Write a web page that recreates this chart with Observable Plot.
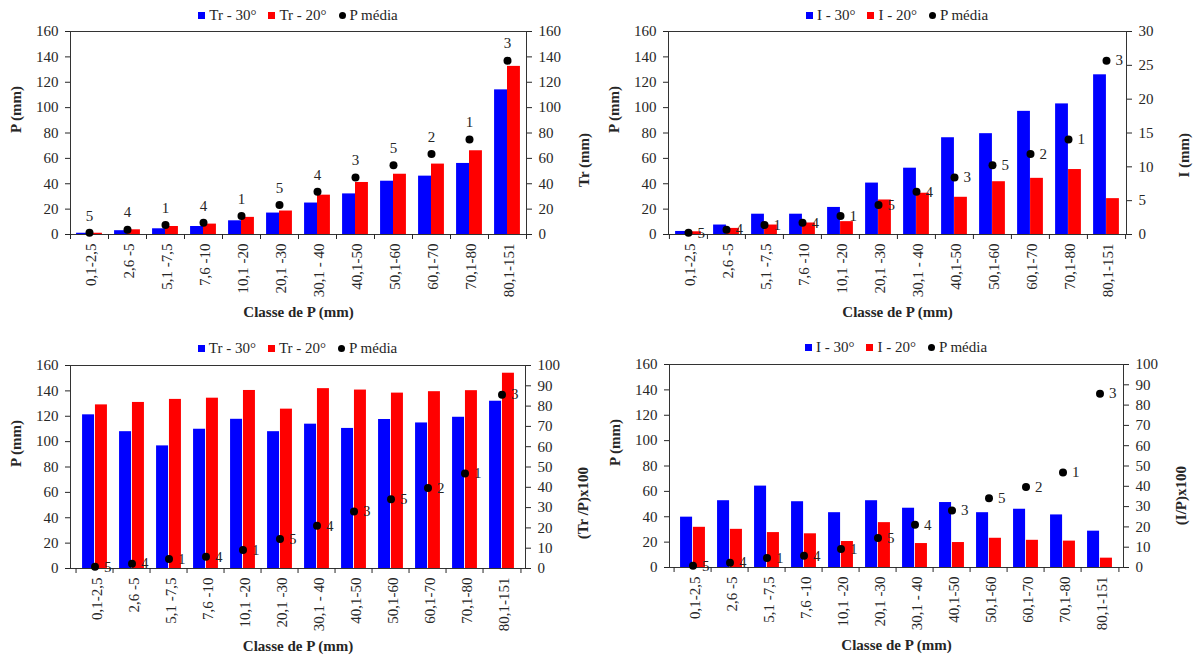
<!DOCTYPE html>
<html><head><meta charset="utf-8">
<script src="https://cdn.jsdelivr.net/npm/d3@7"></script>
<script src="https://cdn.jsdelivr.net/npm/@observablehq/plot@0.6"></script>
<style>
body{margin:0;background:#fff;}
#wrap{position:relative;width:1202px;height:659px;overflow:hidden;font-family:"Liberation Serif","Times New Roman",serif;color:#262626;}
.pnl{position:absolute;}
.lg{position:absolute;height:18px;display:flex;justify-content:center;align-items:center;font-size:15px;white-space:nowrap;font-style:normal;}
.lgi{display:inline-flex;align-items:center;margin:0 6px;}
.lgs{display:inline-block;width:7px;height:7px;margin-right:4px;}
.lgd{display:inline-block;width:7px;height:7px;margin-right:4px;border-radius:50%;background:#000;}
</style></head>
<body><div id="wrap"></div>
<script>
const cats = ["0,1-2,5","2,6 -5","5,1 -7,5","7,6 -10","10,1 -20","20,1 -30","30,1 - 40","40,1-50","50,1-60","60,1-70","70,1-80","80,1-151"];
const pMedia = [1.3, 3.8, 7.5, 9.3, 14.5, 23.2, 33.7, 45, 54.5, 63.5, 74.8, 137];
const pLabels = [5, 4, 1, 4, 1, 5, 4, 3, 5, 2, 1, 3];

const tr30 = [1, 3, 4.5, 6.3, 10.8, 16.9, 24.8, 32, 42, 46, 56, 114];
const tr20 = [1, 3.7, 6.3, 8.2, 13.5, 18.5, 31, 41, 47.5, 55.5, 66, 132.5];

const i30 = [0.45, 1.4, 3.0, 3.0, 4.0, 7.6, 9.8, 14.3, 14.9, 18.2, 19.3, 23.6];
const i20 = [0.4, 0.9, 1.4, 1.7, 1.9, 5.1, 6.1, 5.5, 7.8, 8.3, 9.6, 5.3];

const trp30 = [75.7, 67.4, 60.4, 68.6, 73.5, 67.4, 71.1, 69, 73.4, 71.7, 74.5, 82.4];
const trp20 = [80.6, 81.8, 83.3, 83.9, 87.7, 78.5, 88.6, 87.9, 86.4, 87.1, 87.6, 96.2];

const ip30 = [24.8, 32.9, 40.1, 32.4, 27, 32.9, 29.2, 32, 27, 28.7, 25.9, 17.9];
const ip20 = [19.8, 18.8, 17.2, 16.6, 12.8, 22.1, 11.8, 12.3, 14.4, 13.4, 13, 4.6];

const leftTicks = [0, 20, 40, 60, 80, 100, 120, 140, 160];

const wrap = document.getElementById("wrap");

function panel(o) {
  const {left, top, width, height, ml, mr, mt, mb, s30, s20, rightTicks, rightMax, rightTitle, labelMode, names, legendY} = o;
  const bw = (width - ml - mr) / cats.length;
  const k = 160 / rightMax;
  const rows = cats.map((c, i) => ({c, a: s30[i], b: s20[i], p: pMedia[i], n: String(pLabels[i])}));
  const outer = bw * 0.16;
  const div = document.createElement("div");
  div.className = "pnl";
  div.style.left = left + "px";
  div.style.top = top + "px";
  const chart = Plot.plot({
    width, height,
    marginLeft: ml, marginRight: mr, marginTop: mt, marginBottom: mb,
    style: {fontFamily: '"Liberation Serif","Times New Roman",serif', fontSize: "15px", color: "#262626", background: "transparent", overflow: "visible"},
    x: {domain: cats, padding: 0, axis: null},
    y: {domain: [0, 160], axis: null},
    marks: [
      Plot.barY(rows, {x: "c", y: d => d.a * k, fill: "#0000ff", insetLeft: outer, insetRight: bw / 2}),
      Plot.barY(rows, {x: "c", y: d => d.b * k, fill: "#ff0000", insetLeft: bw / 2, insetRight: outer}),
      Plot.frame({stroke: "#333"}),
      Plot.axisY({anchor: "left", ticks: leftTicks, tickSize: 5, tickPadding: 7, label: null}),
      Plot.axisY(rightTicks.map(t => t * k), {anchor: "right", tickSize: 5, tickPadding: 7, label: null,
        tickFormat: d => String(Math.round(d / k * 10) / 10)}),
      Plot.axisX({anchor: "bottom", tickSize: 0, tickPadding: 9, tickRotate: -90, label: null, dx: 2}),
      Plot.axisX({anchor: "bottom", tickSize: 5, dx: -bw / 2, tickFormat: () => "", label: null}),
      Plot.axisX([cats[cats.length - 1]], {anchor: "bottom", tickSize: 5, dx: bw / 2, tickFormat: () => "", label: null}),
      Plot.dot(rows, {x: "c", y: "p", r: 4, fill: "#000"}),
      labelMode === "above"
        ? Plot.text(rows, {x: "c", y: "p", text: "n", dy: -17, fill: "#262626"})
        : Plot.text(rows, {x: "c", y: "p", text: "n", dx: 9, textAnchor: "start", fill: "#262626"}),
      Plot.text(["P (mm)"], {text: d => d, frameAnchor: "left", dx: -54, rotate: -90, fontWeight: "bold", fill: "#262626"}),
      Plot.text([rightTitle], {text: d => d, frameAnchor: "right", dx: 58, rotate: -90, fontWeight: "bold", fill: "#262626"}),
      Plot.text(["Classe de P (mm)"], {text: d => d, frameAnchor: "bottom", dy: 82, fontWeight: "bold", fill: "#262626"})
    ]
  });
  div.appendChild(chart);
  wrap.appendChild(div);

  const lg = document.createElement("div");
  lg.className = "lg";
  lg.style.left = (left + ml) + "px";
  lg.style.width = (width - ml - mr) + "px";
  lg.style.top = (top + legendY - 9) + "px";
  const items = [["lgs", "#0000ff", names[0]], ["lgs", "#ff0000", names[1]], ["lgd", "#000", names[2]]];
  for (const [cls, col, name] of items) {
    const it = document.createElement("span");
    it.className = "lgi";
    const sw = document.createElement("span");
    sw.className = cls;
    sw.style.background = col;
    const tx = document.createElement("span");
    tx.textContent = name;
    it.appendChild(sw);
    it.appendChild(tx);
    lg.appendChild(it);
  }
  wrap.appendChild(lg);
}

panel({left: 0, top: 0, width: 601, height: 330, ml: 70, mr: 75, mt: 31, mb: 96,
  s30: tr30, s20: tr20, rightTicks: [0, 20, 40, 60, 80, 100, 120, 140, 160], rightMax: 160,
  rightTitle: "Tr (mm)", labelMode: "above", names: ["Tr - 30°", "Tr - 20°", "P média"], legendY: 15});

panel({left: 601, top: 0, width: 601, height: 330, ml: 67, mr: 76, mt: 31, mb: 96,
  s30: i30, s20: i20, rightTicks: [0, 5, 10, 15, 20, 25, 30], rightMax: 30,
  rightTitle: "I (mm)", labelMode: "right", names: ["I - 30°", "I - 20°", "P média"], legendY: 15});

panel({left: 0, top: 330, width: 601, height: 329, ml: 70, mr: 76, mt: 35, mb: 91,
  s30: trp30, s20: trp20, rightTicks: [0, 10, 20, 30, 40, 50, 60, 70, 80, 90, 100], rightMax: 100,
  rightTitle: "(Tr /P)x100", labelMode: "right", names: ["Tr - 30°", "Tr - 20°", "P média"], legendY: 18});

panel({left: 601, top: 330, width: 601, height: 329, ml: 68, mr: 79, mt: 34, mb: 92,
  s30: ip30, s20: ip20, rightTicks: [0, 10, 20, 30, 40, 50, 60, 70, 80, 90, 100], rightMax: 100,
  rightTitle: "(I/P)x100", labelMode: "right", names: ["I - 30°", "I - 20°", "P média"], legendY: 17});
</script>
</body></html>
